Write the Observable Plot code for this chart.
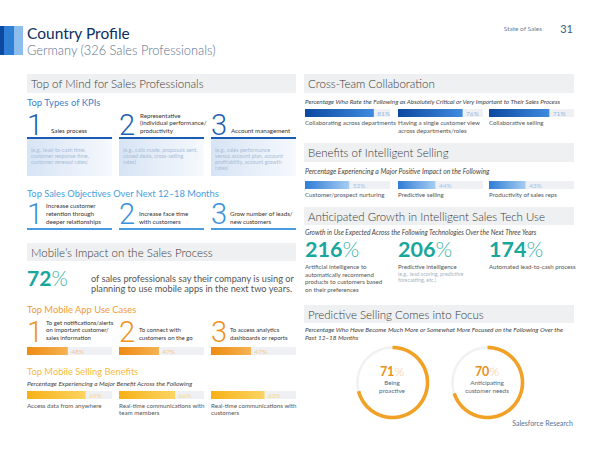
<!DOCTYPE html>
<html><head><meta charset="utf-8">
<script src="https://cdn.jsdelivr.net/npm/d3@7"></script>
<script src="https://cdn.jsdelivr.net/npm/@observablehq/plot@0.6"></script>
<style>
html,body{margin:0;padding:0;background:#fff;}
#page{position:relative;width:600px;height:450px;overflow:hidden;font-family:Lato,sans-serif;}
#page svg.layer{position:absolute;left:0;top:0;}
.chart{position:absolute;line-height:0;}
</style></head><body><div id="page"></div>
<script>
// ---------------- DATA ----------------
const kpiRanks = ["1", "2", "3"];
const kpiLabels = [["Sales process"], ["Representative", "(individual performance/", "productivity"], ["Account management"]];
const kpiExamples = [
  ["(e.g., lead-to-cash time,", "customer response time,", "customer renewal rates)"],
  ["(e.g., calls made, proposals sent,", "closed deals, cross-selling", "rates)"],
  ["(e.g., sales performance", "versus account plan, account", "profitability, account growth", "rates)"]
];
const objectiveLabels = [["Increase customer", "retention through", "deeper relationships"], ["Increase face time", "with customers"], ["Grow number of leads/", "new customers"]];
const mobileAppPct = 72;
const mobileUseLabels = [["To get notifications/alerts", "on important customer/", "sales information"], ["To connect with", "customers on the go"], ["To access analytics", "dashboards or reports"]];
const mobileUseValues = [48, 47, 47];
const mobileBenefitLabels = [["Access data from anywhere"], ["Real-time communications with", "team members"], ["Real-time communications with", "customers"]];
const mobileBenefitValues = [69, 66, 63];
const collabLabels = [["Collaborating across departments"], ["Having a single customer view", "across departments/roles"], ["Collaborative selling"]];
const collabValues = [81, 76, 71];
const intelLabels = [["Customer/prospect nurturing"], ["Predictive selling"], ["Productivity of sales reps"]];
const intelValues = [52, 44, 43];
const growthValues = [216, 206, 174];
const growthLabels = [["Artificial intelligence to", "automatically recommend", "products to customers based", "on their preferences"], ["Predictive intelligence"], ["Automated lead-to-cash process"]];
const growthNotes = [[], ["(e.g., lead scoring, predictive", "forecasting, etc.)"], []];
const focusValues = [71, 70];
const focusLabels = [["Being", "proactive"], ["Anticipating", "customer needs"]];

// ---------------- LAYOUT ----------------
const L = [27, 119, 211], R = [305, 398, 489], COLW = 85;
const page = d3.select("#page");
const bg = page.append("svg").attr("class", "layer").attr("width", 600).attr("height", 450);
const defs = bg.append("defs");
function grad(sel, id, c0, c1, x2 = 1, y2 = 0) {
  const g = sel.append("linearGradient").attr("id", id).attr("x1", 0).attr("y1", 0).attr("x2", x2).attr("y2", y2);
  g.append("stop").attr("offset", "0%").attr("stop-color", c0);
  g.append("stop").attr("offset", "100%").attr("stop-color", c1);
}
grad(defs, "kpibox", "#d7e4f5", "#f6f9fd");

function T(g, x, y, lines, o = {}) {
  const t = g.append("text").attr("x", x).attr("y", y)
    .attr("font-size", o.size || 6).attr("fill", o.fill || "#555")
    .attr("font-weight", o.weight || 400)
    .attr("text-anchor", o.anchor || "start")
    .attr("font-family", o.family || "Lato, sans-serif");
  if (o.italic) t.attr("font-style", "italic");
  if (o.ls) t.attr("letter-spacing", o.ls);
  (Array.isArray(lines) ? lines : [lines]).forEach((s, i) =>
    t.append("tspan").attr("x", x).attr("y", y + i * (o.lh || 7.6)).text(s));
  return t;
}
function pct(g, x, y, val, o) {
  const t = g.append("text").attr("x", x).attr("y", y).attr("font-size", o.size)
    .attr("font-family", "Lato, sans-serif").attr("text-anchor", o.anchor || "start");
  t.append("tspan").attr("font-weight", 700).attr("fill", o.fill).text(val);
  t.append("tspan").attr("font-weight", 300).attr("fill", o.pfill).text("%");
}
function section(x, y, w, h, label) {
  bg.append("rect").attr("x", x).attr("y", y).attr("width", w).attr("height", h).attr("fill", "#eef0f2");
  T(bg, x + 4, y + 14, label, {size: 11.5, fill: "#3a3a3a", weight: 300});
}

// header
[["#0b4a9e", 0, 4], ["#2f7fd6", 4, 10], ["#8dbdec", 14, 9]].forEach(([c, x, w]) =>
  bg.append("rect").attr("x", x).attr("y", 26).attr("width", w).attr("height", 29).attr("fill", c));
T(bg, 27, 38.5, "Country Profile", {size: 15.5, fill: "#0c2e63", weight: 400});
T(bg, 27, 54.5, "Germany (326 Sales Professionals)", {size: 12.8, fill: "#5a7290", weight: 300});
T(bg, 542, 31, "State of Sales", {size: 6.5, fill: "#6a7f96", anchor: "end"});
T(bg, 573, 32.5, "31", {size: 11, fill: "#3f5a7a", anchor: "end"});

section(27, 74, 269, 19, "Top of Mind for Sales Professionals");
section(304, 74, 270, 19, "Cross-Team Collaboration");
section(304, 143, 270, 19, "Benefits of Intelligent Selling");
section(304, 207, 270, 18, "Anticipated Growth in Intelligent Sales Tech Use");
section(27, 243, 269, 18, "Mobile’s Impact on the Sales Process");
section(304, 305, 270, 18, "Predictive Selling Comes into Focus");

// KPIs
T(bg, 27, 106, "Top Types of KPIs", {size: 9.5, fill: "#3f7fcc"});
const kpiLabelX = [51, 140, 231];
kpiRanks.forEach((r, i) => {
  T(bg, L[i], 135, r, {size: 29, fill: "#1e5fb4", weight: 300, family: "Roboto, sans-serif"});
  const lines = kpiLabels[i];
  T(bg, kpiLabelX[i], 133 - (lines.length - 1) * 7.6, lines, {size: 6.2, fill: "#333"});
  bg.append("rect").attr("x", L[i]).attr("y", 139).attr("width", COLW).attr("height", 37).attr("fill", "url(#kpibox)");
  bg.append("rect").attr("x", L[i]).attr("y", 137).attr("width", COLW).attr("height", 2).attr("fill", "#1a5cb2");
  T(bg, L[i] + 4, 152, kpiExamples[i], {size: 5.4, fill: "#a9bdd6", lh: 6});
});

// objectives
T(bg, 27, 197, "Top Sales Objectives Over Next 12–18 Months", {size: 9.3, fill: "#47a0de"});
kpiRanks.forEach((r, i) => {
  T(bg, L[i], 224, r, {size: 29, fill: "#3b90dc", weight: 300, family: "Roboto, sans-serif"});
  const lines = objectiveLabels[i];
  T(bg, kpiLabelX[i] - (i === 0 ? 5 : 1), 223.5 - (lines.length - 1) * 8, lines, {size: 6.2, fill: "#333", lh: 8});
  bg.append("rect").attr("x", L[i]).attr("y", 228).attr("width", COLW).attr("height", 2).attr("fill", "#4a9be0");
});

// 72%
pct(bg, 27, 286, mobileAppPct, {size: 21, fill: "#17a79c", pfill: "#3db3aa"});
T(bg, 91, 281.5, ["of sales professionals say their company is using or", "planning to use mobile apps in the next two years."], {size: 9.2, fill: "#555", lh: 10});

// mobile use cases
T(bg, 27, 313, "Top Mobile App Use Cases", {size: 9.4, fill: "#f29b34"});
kpiRanks.forEach((r, i) => {
  T(bg, L[i], 342, r, {size: 29, fill: "#f0921c", weight: 300, family: "Roboto, sans-serif"});
  const lines = mobileUseLabels[i];
  T(bg, kpiLabelX[i] - (i === 0 ? 5 : 1), 340 - (lines.length - 1) * 7.6, lines, {size: 6, fill: "#333"});
});

// mobile benefits
T(bg, 27, 375, "Top Mobile Selling Benefits", {size: 9.4, fill: "#f8bb40"});
T(bg, 27, 385.5, "Percentage Experiencing a Major Benefit Across the Following", {size: 6.5, fill: "#444", italic: true});
mobileBenefitLabels.forEach((l, i) => T(bg, L[i], 407.5, l, {size: 6.2, fill: "#555"}));

// right column texts
T(bg, 305, 104, "Percentage Who Rate the Following as Absolutely Critical or Very Important to Their Sales Process", {size: 6.35, fill: "#444", italic: true});
collabLabels.forEach((l, i) => T(bg, R[i], 125, l, {size: 6.2, fill: "#555"}));
T(bg, 305, 174, "Percentage Experiencing a Major Positive Impact on the Following", {size: 6.8, fill: "#444", italic: true});
intelLabels.forEach((l, i) => T(bg, R[i], 196.5, l, {size: 6.2, fill: "#555"}));
T(bg, 305, 235, "Growth in Use Expected Across the Following Technologies Over the Next Three Years", {size: 6.6, fill: "#444", italic: true});
growthValues.forEach((v, i) => {
  pct(bg, R[i], 257, v, {size: 21.5, fill: "#17a79c", pfill: "#3db3aa"});
  T(bg, R[i], 269, growthLabels[i], {size: 6.1, fill: "#555"});
  if (growthNotes[i].length) T(bg, R[i], 275.5, growthNotes[i], {size: 5.3, fill: "#aab4c0", lh: 6.5});
});
T(bg, 305, 332, ["Percentage Who Have Become Much More or Somewhat More Focused on the Following Over the", "Past 12–18 Months"], {size: 6.4, fill: "#444", italic: true, lh: 8});
T(bg, 573, 426, "Salesforce Research", {size: 7, fill: "#5a7290", anchor: "end"});

// ---------------- PLOT CHARTS ----------------
let gid = 0;
function barChart(value, left, top, c0, c1, labelFill) {
  const id = "bg" + (gid++);
  const svg = Plot.plot({
    width: COLW, height: 8, margin: 0,
    style: {background: "transparent", fontFamily: "Lato, sans-serif", overflow: "visible"},
    x: {domain: [0, 100], axis: null},
    marks: [
      Plot.barX([100], {x: d => d, fill: "#eef0f3"}),
      Plot.barX([value], {x: d => d, fill: `url(#${id})`}),
      Plot.text([value], {x: d => d, text: d => d + "%", textAnchor: "start", dx: 3, fill: labelFill, fontSize: 6.5})
    ]
  });
  grad(d3.select(svg).append("defs"), id, c0, c1);
  page.append("div").attr("class", "chart").style("left", left + "px").style("top", top + "px").node().appendChild(svg);
}
collabValues.forEach((v, i) => barChart(v, R[i], 109, "#0c48a0", "#3d8be0", "#93b7e6"));
intelValues.forEach((v, i) => barChart(v, R[i], 181, "#2f7dd5", "#a6cdf2", "#9fc4ec"));
mobileUseValues.forEach((v, i) => barChart(v, L[i], 347, "#ee8a12", "#f6b352", "#f6c690"));
mobileBenefitValues.forEach((v, i) => barChart(v, L[i], 391, "#f7b116", "#fcd462", "#f9d88a"));

function donut(value, cx, cy) {
  const N = 240, r = 35, m = 3;
  const track = d3.range(N + 1).map(k => ({a: 2 * Math.PI * k / N}));
  const arc = d3.range(N + 1).map(k => ({a: 2 * Math.PI * (value / 100) * k / N}));
  const svg = Plot.plot({
    width: 2 * (r + m), height: 2 * (r + m), margin: m,
    style: {background: "transparent"},
    x: {domain: [-1, 1], axis: null}, y: {domain: [-1, 1], axis: null},
    marks: [
      Plot.line(track, {x: d => Math.sin(d.a), y: d => Math.cos(d.a), stroke: "#eff1f3", strokeWidth: 2.5}),
      Plot.line(arc, {x: d => Math.sin(d.a), y: d => Math.cos(d.a), stroke: "#f0a126", strokeWidth: 3.6, strokeLinecap: "butt"})
    ]
  });
  page.append("div").attr("class", "chart").style("left", (cx - r - m) + "px").style("top", (cy - r - m) + "px").node().appendChild(svg);
}
const donutX = [392, 487];
focusValues.forEach((v, i) => donut(v, donutX[i], 382));

// donut center text on top
const fg = page.append("svg").attr("class", "layer").attr("width", 600).attr("height", 450).style("pointer-events", "none");
focusValues.forEach((v, i) => {
  pct(fg, donutX[i], 376, v, {size: 12.5, fill: "#e8911c", pfill: "#f5c88e", anchor: "middle"});
  T(fg, donutX[i], 385, focusLabels[i], {size: 6.3, fill: "#4f6a86", anchor: "middle", lh: 7.5});
});
</script></body></html>
